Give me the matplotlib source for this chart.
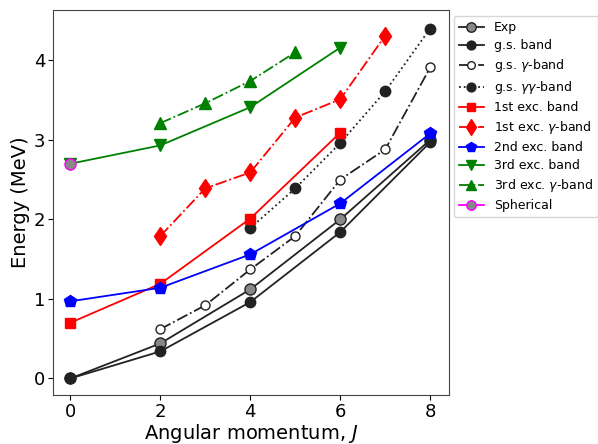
import numpy as np
import matplotlib.pyplot as plt

# 数据：角动量与能量 (MeV)
J_exp = [0, 2, 4, 6, 8]
E_exp = [0.0, 0.44, 1.12, 2.00, 3.00]
J_gs = [0, 2, 4, 6, 8]
E_gs = [0.0, 0.34, 0.96, 1.84, 2.97]
J_gs_g = [2, 3, 4, 5, 6, 7, 8]
E_gs_g = [0.62, 0.92, 1.37, 1.79, 2.50, 2.88, 3.91]
J_gs_gg = [4, 5, 6, 7, 8]
E_gs_gg = [1.89, 2.39, 2.96, 3.61, 4.40]
J_1 = [0, 2, 4, 6]
E_1 = [0.70, 1.19, 2.01, 3.09]
J_1g = [2, 3, 4, 5, 6, 7]
E_1g = [1.79, 2.39, 2.59, 3.28, 3.51, 4.31]
J_2 = [0, 2, 4, 6, 8]
E_2 = [0.97, 1.14, 1.56, 2.20, 3.08]
J_3 = [0, 2, 4, 6]
E_3 = [2.70, 2.93, 3.41, 4.16]
J_3g = [2, 3, 4, 5]
E_3g = [3.21, 3.46, 3.74, 4.10]
J_sph = [0]
E_sph = [2.70]

k = '#222222'

fig = plt.figure(figsize=(5.98, 4.44), dpi=100)
ax = fig.add_axes([0.089, 0.110, 0.662, 0.867])

ax.plot(J_exp, E_exp, '-', color=k, marker='o', mfc='#888888', mec=k, ms=8, lw=1.3, label='Exp')
ax.plot(J_gs, E_gs, '-', color=k, marker='o', mfc=k, mec=k, ms=7.5, lw=1.3, label='g.s. band')
ax.plot(J_gs_g, E_gs_g, '-.', color=k, marker='o', mfc='white', mec=k, ms=6.5, lw=1.3, label=r'g.s. $\gamma$-band')
ax.plot(J_gs_gg, E_gs_gg, ':', color=k, marker='o', mfc=k, mec=k, ms=7.5, lw=1.3, label=r'g.s. $\gamma\gamma$-band')
ax.plot(J_1, E_1, '-', color='red', marker='s', ms=7.5, lw=1.3, label='1st exc. band')
ax.plot(J_1g, E_1g, '-.', color='red', marker='d', ms=9.5, lw=1.3, label=r'1st exc. $\gamma$-band')
ax.plot(J_2, E_2, '-', color='blue', marker='p', ms=9, lw=1.3, label='2nd exc. band')
ax.plot(J_3, E_3, '-', color='green', marker='v', ms=9, lw=1.3, label='3rd exc. band')
ax.plot(J_3g, E_3g, '-.', color='green', marker='^', ms=9, lw=1.3, label=r'3rd exc. $\gamma$-band')
ax.plot(J_sph, E_sph, '-', color='magenta', marker='o', mfc='#888888', mec='magenta', ms=8, lw=1.3, label='Spherical')

ax.set_xlim(-0.38, 8.42)
ax.set_ylim(-0.21, 4.63)
ax.set_xticks([0, 2, 4, 6, 8])
ax.set_yticks([0, 1, 2, 3, 4])
ax.tick_params(labelsize=13, direction='out', length=3.5, pad=2)
ax.set_xlabel('Angular momentum, $J$', fontsize=14, labelpad=1)
ax.set_ylabel('Energy (MeV)', fontsize=14, labelpad=3)
for s in ax.spines.values():
    s.set_color('#444444')

ax.legend(loc='upper left', bbox_to_anchor=(1.012, 0.985), fontsize=9, handlelength=2.0,
          borderaxespad=0, frameon=True, fancybox=True, labelspacing=0.4, markerscale=0.85)

fig.savefig('out.png', dpi=100)
